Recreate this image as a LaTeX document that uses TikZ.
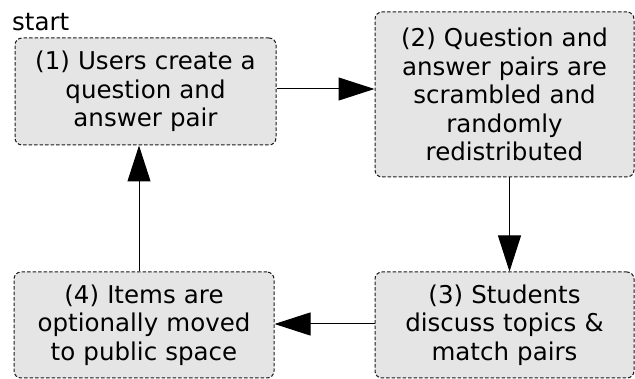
\documentclass[tikz,border=0pt]{standalone}
\usepackage{fontspec}
\setmainfont{DejaVu Sans}
\usetikzlibrary{arrows.meta}
\definecolor{boxfill}{HTML}{E5E5E5}
\definecolor{boxline}{HTML}{1A1A1A}
\begin{document}
\begin{tikzpicture}[x=1pt,y=-1pt,
  stepbox/.style={draw=boxline, fill=boxfill, line width=1pt, dash pattern=on 3.5pt off 2pt,
    rounded corners=7pt, inner sep=0pt, align=center, text width=#1-8pt,
    font=\fontsize{24.5}{28.5}\selectfont},
  arr/.style={line width=1pt, -{Triangle[length=36pt,width=23pt]}},
  lbl/.style={inner sep=0pt, font=\fontsize{24.5}{28.5}\selectfont}]
\useasboundingbox (0,0) rectangle (635,379);
\node[lbl, anchor=base west] (st) at (12,31) {start};
\node[stepbox=261pt, minimum width=261pt, minimum height=107pt] (b1) at (145.5,91.5)
  {(1) Users create a\\question and\\answer pair};
\node[stepbox=259pt, minimum width=259pt, minimum height=165pt] (b2) at (504.5,94.5)
  {(2) Question and\\answer pairs are\\scrambled and\\randomly\\redistributed};
\node[stepbox=259pt, minimum width=259pt, minimum height=106pt] (b3) at (504.5,325)
  {(3) Students\\discuss topics \&\\match pairs};
\node[stepbox=260pt, minimum width=260pt, minimum height=106pt] (b4) at (144,325)
  {(4) Items are\\optionally moved\\to public space};
\coordinate (y12) at (0,89);
\coordinate (x23) at (509.5,0);
\coordinate (y34) at (0,324);
\coordinate (x41) at (139,0);
\draw[arr] (b1.east |- y12) -- (b2.west |- y12);
\draw[arr] (b2.south -| x23) -- (b3.north -| x23);
\draw[arr] (b3.west |- y34) -- (b4.east |- y34);
\draw[arr] (b4.north -| x41) -- (b1.south -| x41);
\end{tikzpicture}
\end{document}
